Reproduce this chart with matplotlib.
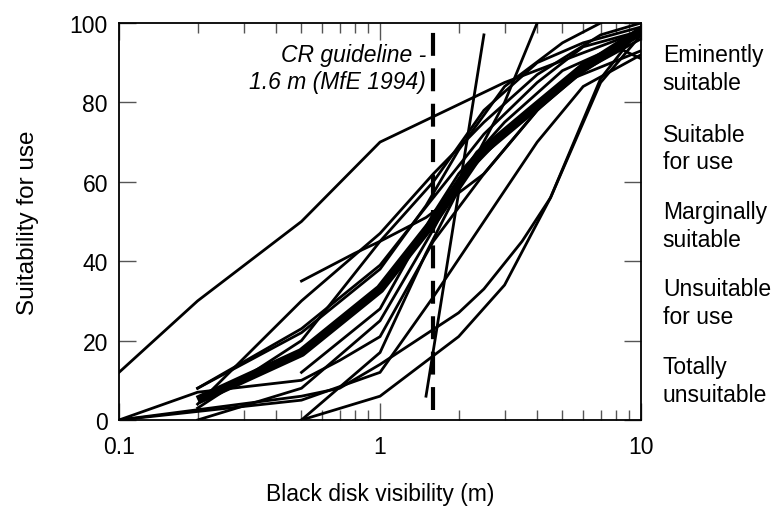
import matplotlib
matplotlib.use('Agg')
import matplotlib.pyplot as plt
from matplotlib.ticker import NullFormatter, LogLocator

plt.rcParams['font.family'] = ['Liberation Sans', 'DejaVu Sans']

# ── data: individual survey curves (visibility m, suitability %) ───────────
curve_a_x = [0.1, 0.2, 0.5, 1, 3, 10]
curve_a_y = [12, 30, 50, 70, 85, 98]
curve_s1_x = [1.5, 2.5]
curve_s1_y = [6, 97]
curve_s2_x = [0.5, 1, 1.5, 2, 3, 4]
curve_s2_y = [0, 17, 42, 58, 80, 100]
curve_c_x = [0.5, 1, 2, 3, 4.5, 7, 10]
curve_c_y = [0, 6, 21, 34, 56, 86, 99]
curve_d_x = [0.1, 0.5, 0.7, 1, 2, 2.5, 3.5, 4.5, 7, 10]
curve_d_y = [0, 6, 8, 14, 27, 33, 45, 56, 85, 97]
curve_e_x = [0.1, 0.5, 1, 1.6, 2.5, 4, 6, 10]
curve_e_y = [0, 5, 12, 31, 50, 70, 84, 92]
curve_f_x = [0.1, 0.2, 0.5, 0.7, 1, 1.6, 2.5, 4, 6, 10]
curve_f_y = [0, 7, 10, 15, 21, 45, 62, 78, 88, 96]
curve_g_x = [0.5, 0.8, 1, 1.5, 2.5, 4, 6, 10]
curve_g_y = [35, 42, 45, 51, 62, 78, 90, 97]
curve_i_x = [0.2, 0.5, 1, 1.6, 2.5, 4, 7, 10]
curve_i_y = [4, 30, 47, 62, 75, 87, 97, 100]
curve_j_x = [0.2, 0.5, 1, 1.6, 2.5, 4, 6, 10]
curve_j_y = [8, 23, 39, 56, 72, 85, 94, 98]
curve_k_x = [0.2, 0.5, 1, 1.6, 2.5, 4, 6, 10]
curve_k_y = [3, 20, 45, 60, 78, 90, 95, 99]
curve_l_x = [0.2, 0.5, 1, 1.6, 2, 3, 5, 10]
curve_l_y = [0, 8, 25, 48, 60, 72, 85, 93]
curve_m_x = [0.2, 0.5, 1, 1.5, 2, 3, 5, 7]
curve_m_y = [8, 22, 38, 54, 68, 84, 95, 100]
curve_n_x = [0.5, 1, 1.6, 2, 3, 5, 8, 10]
curve_n_y = [12, 28, 52, 62, 75, 88, 94, 91]

# mean curve (thick)
mean_x = [0.2, 0.5, 1, 1.6, 2.4, 3.8, 5.8, 10]
mean_y = [5, 17, 33, 50, 67, 78, 88, 98]

guideline_x = 1.6
guideline_y = [2.5, 100]

class_labels = ['Eminently\nsuitable', 'Suitable\nfor use', 'Marginally\nsuitable',
                'Unsuitable\nfor use', 'Totally\nunsuitable']
class_y = [88.5, 68.5, 49, 29.5, 10]

thin_curves = [
    (curve_a_x, curve_a_y), (curve_s1_x, curve_s1_y), (curve_s2_x, curve_s2_y),
    (curve_c_x, curve_c_y), (curve_d_x, curve_d_y), (curve_e_x, curve_e_y),
    (curve_f_x, curve_f_y), (curve_g_x, curve_g_y), (curve_i_x, curve_i_y),
    (curve_j_x, curve_j_y), (curve_k_x, curve_k_y), (curve_l_x, curve_l_y),
    (curve_m_x, curve_m_y), (curve_n_x, curve_n_y),
]

# ── plot ───────────────────────────────────────────────────────────────────
fig = plt.figure(figsize=(7.76, 5.10), dpi=100)
ax = fig.add_axes([0.1534, 0.1745, 0.6727, 0.7785])

for xs, ys in thin_curves:
    ax.plot(xs, ys, color='black', lw=2.0, solid_joinstyle='miter')
ax.plot(mean_x, mean_y, color='black', lw=6.5, solid_capstyle='butt')
ax.plot([guideline_x, guideline_x], guideline_y, color='black', lw=3.0,
        dashes=(5.5, 3.0))

ax.set_xscale('log')
ax.set_xlim(0.1, 10)
ax.set_ylim(0, 100)
ax.set_xticks([0.1, 1, 10])
ax.set_xticklabels(['0.1', '1', '10'])
ax.xaxis.set_minor_locator(LogLocator(base=10, subs=range(2, 10)))
ax.xaxis.set_minor_formatter(NullFormatter())
ax.set_yticks([0, 20, 40, 60, 80, 100])

ax.tick_params(which='both', direction='in', top=True, right=True,
               labelsize=16.5, color='#555555', width=1.0)
ax.tick_params(which='major', length=12)
ax.tick_params(which='minor', length=7)
ax.tick_params(axis='x', which='major', pad=11)
ax.tick_params(axis='y', which='major', pad=8)
for sp in ax.spines.values():
    sp.set_linewidth(1.3)

ax.set_xlabel('Black disk visibility (m)', fontsize=16.5, labelpad=17)
ax.set_ylabel('Suitability for use', fontsize=17.5, labelpad=22)

ax.text(1.5, 88.7, 'CR guideline -\n1.6 m (MfE 1994)', style='italic',
        fontsize=16.5, ha='right', va='center', linespacing=1.22)

for lab, yv in zip(class_labels, class_y):
    ax.text(1.0416, yv, lab, transform=ax.get_yaxis_transform(), fontsize=16.5,
            ha='left', va='center', linespacing=1.27)

fig.savefig('out.png', dpi=100)
